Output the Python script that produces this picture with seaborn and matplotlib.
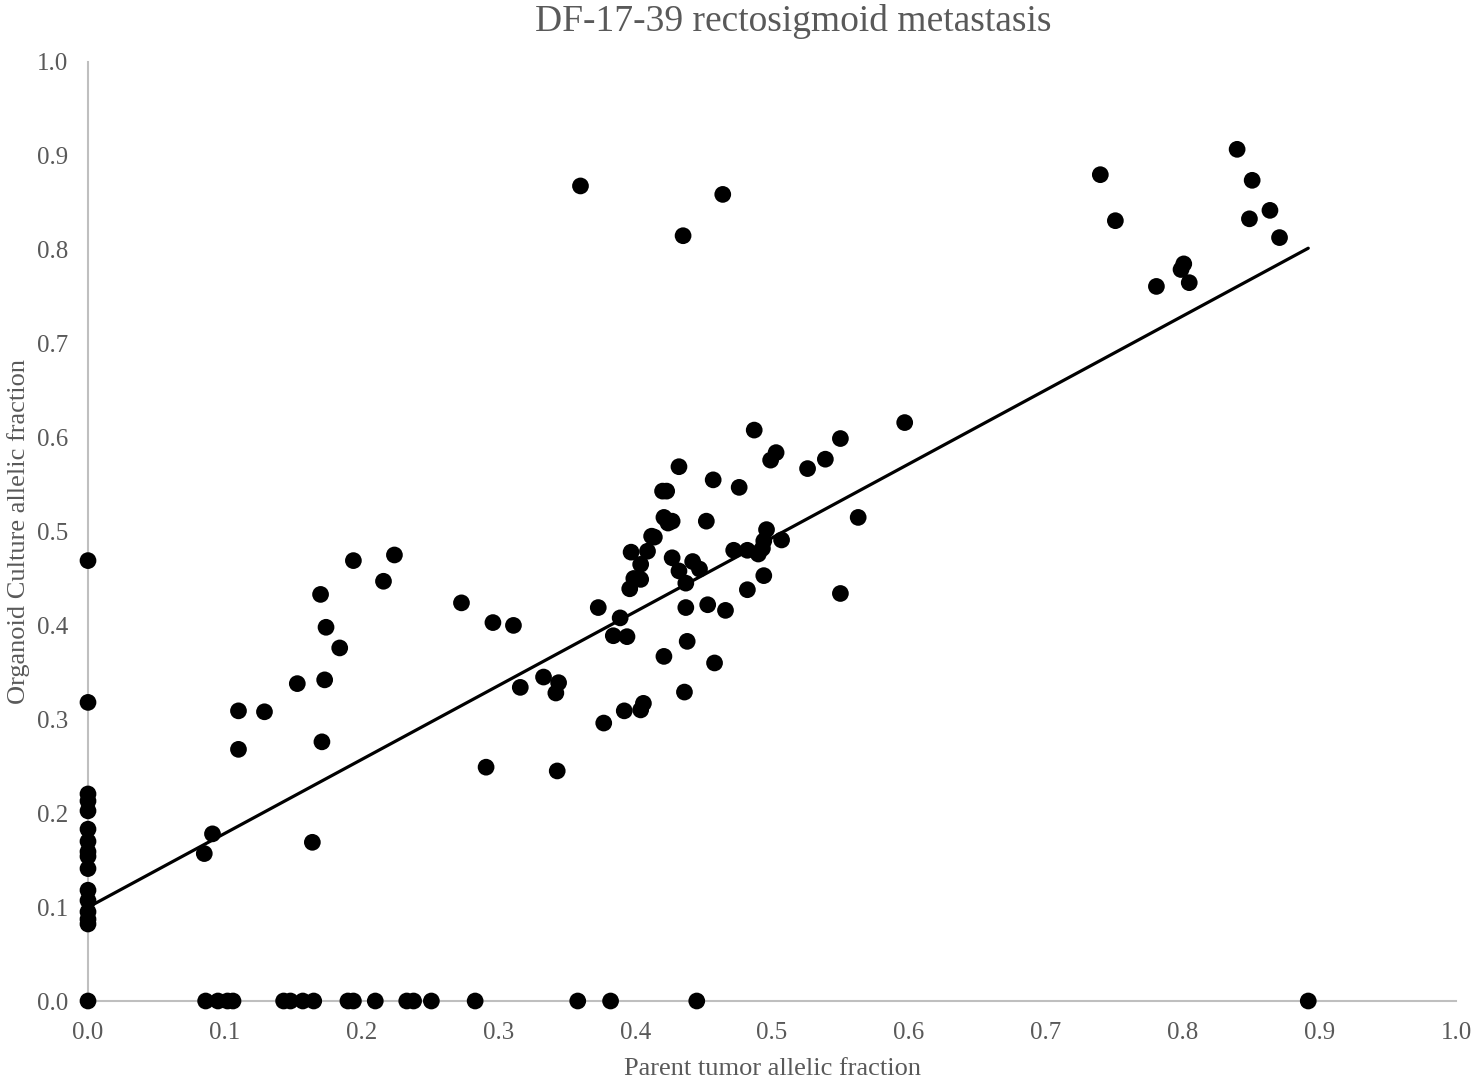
import numpy as np
import pandas as pd
import matplotlib
matplotlib.use("Agg")
import matplotlib.pyplot as plt
import seaborn as sns

# Parent tumor allelic fraction (x) and organoid culture allelic fraction (y)
x_left = [0.0] * 16
y_left = [0.469, 0.318, 0.2205, 0.213, 0.2025, 0.183, 0.170, 0.159, 0.154, 0.141,
          0.118, 0.107, 0.095, 0.087, 0.082, 0.0]

x_bottom = [0.086, 0.095, 0.102, 0.106, 0.143, 0.148, 0.157, 0.165, 0.190, 0.194,
            0.210, 0.233, 0.238, 0.251, 0.283, 0.358, 0.382, 0.445, 0.892]
y_bottom = [0.0] * 19

x_low = [0.085, 0.091, 0.110, 0.129, 0.110, 0.164, 0.153, 0.173, 0.171, 0.194,
         0.224, 0.216, 0.170, 0.273, 0.174, 0.184, 0.296, 0.311, 0.291]
y_low = [0.157, 0.178, 0.309, 0.308, 0.268, 0.169, 0.338, 0.342, 0.276, 0.469,
         0.475, 0.447, 0.433, 0.424, 0.398, 0.376, 0.403, 0.400, 0.249]

x_mid = [0.487, 0.503, 0.499, 0.550, 0.539, 0.526, 0.432, 0.457, 0.476, 0.420,
         0.423, 0.421, 0.424, 0.427, 0.452, 0.412, 0.414, 0.496, 0.507, 0.494,
         0.493, 0.490, 0.472, 0.482, 0.409, 0.397, 0.427, 0.404, 0.442, 0.447,
         0.432, 0.399, 0.404, 0.494, 0.563, 0.396, 0.437, 0.482, 0.550, 0.373,
         0.437, 0.453, 0.466, 0.389, 0.384, 0.394, 0.438, 0.421, 0.458, 0.333,
         0.344, 0.316, 0.342, 0.436, 0.406, 0.404, 0.392, 0.377, 0.343, 0.597]
y_mid = [0.608, 0.584, 0.576, 0.599, 0.577, 0.567, 0.569, 0.555, 0.547, 0.543,
         0.543, 0.515, 0.509, 0.511, 0.511, 0.495, 0.494, 0.502, 0.491, 0.490,
         0.482, 0.476, 0.480, 0.480, 0.479, 0.478, 0.472, 0.465, 0.468, 0.460,
         0.458, 0.450, 0.449, 0.453, 0.515, 0.439, 0.445, 0.438, 0.434, 0.419,
         0.419, 0.422, 0.416, 0.408, 0.389, 0.388, 0.383, 0.367, 0.360, 0.345,
         0.339, 0.334, 0.328, 0.329, 0.317, 0.310, 0.309, 0.296, 0.245, 0.616]

x_high = [0.360, 0.464, 0.435, 0.740, 0.751, 0.840, 0.851, 0.849, 0.864, 0.871,
          0.781, 0.799, 0.801, 0.805]
y_high = [0.868, 0.859, 0.815, 0.880, 0.831, 0.907, 0.874, 0.833, 0.842, 0.813,
          0.761, 0.779, 0.785, 0.765]

x_vals = x_left + x_bottom + x_low + x_mid + x_high
y_vals = y_left + y_bottom + y_low + y_mid + y_high
df = pd.DataFrame({"parent": x_vals, "organoid": y_vals})

sns.set_style("white")
plt.rcParams["font.family"] = ["Liberation Serif", "DejaVu Serif"]

fig = plt.figure(figsize=(14.74, 10.78), dpi=100)
ax = fig.add_axes([88 / 1474, 1 - 1001 / 1078, (1456 - 88) / 1474, (1001 - 62) / 1078])

sns.regplot(data=df, x="parent", y="organoid", ax=ax, ci=None, truncate=True,
            scatter_kws=dict(s=145, color="black", alpha=1, edgecolor="none",
                             zorder=3, clip_on=False),
            line_kws=dict(color="black", lw=2.3, zorder=4))

ax.set_xlim(0, 1.0)
ax.set_ylim(0, 1.0)
ticks = np.round(np.arange(0, 1.01, 0.1), 1)
ax.set_xticks(ticks)
ax.set_yticks(ticks)
ax.set_xticklabels([f"{t:.1f}" for t in ticks])
ax.set_yticklabels([f"{t:.1f}" for t in ticks])
grey = "#595959"
ax.tick_params(axis="both", length=0, labelsize=18, colors=grey)
ax.tick_params(axis="x", pad=15)
ax.tick_params(axis="y", pad=14)

for side in ["top", "right"]:
    ax.spines[side].set_visible(False)
for side in ["left", "bottom"]:
    ax.spines[side].set_color("#BFBFBF")
    ax.spines[side].set_linewidth(1.5)
    ax.spines[side].set_zorder(1)

ax.set_xlabel("Parent tumor allelic fraction", fontsize=19, color=grey, labelpad=10)
ax.set_ylabel("Organoid Culture allelic fraction", fontsize=19, color=grey, labelpad=5)
ax.set_title("DF-17-39 rectosigmoid metastasis", fontsize=27, color=grey, pad=22,
             x=(793 - 88) / 1368)

fig.savefig("out.png", dpi=100)
